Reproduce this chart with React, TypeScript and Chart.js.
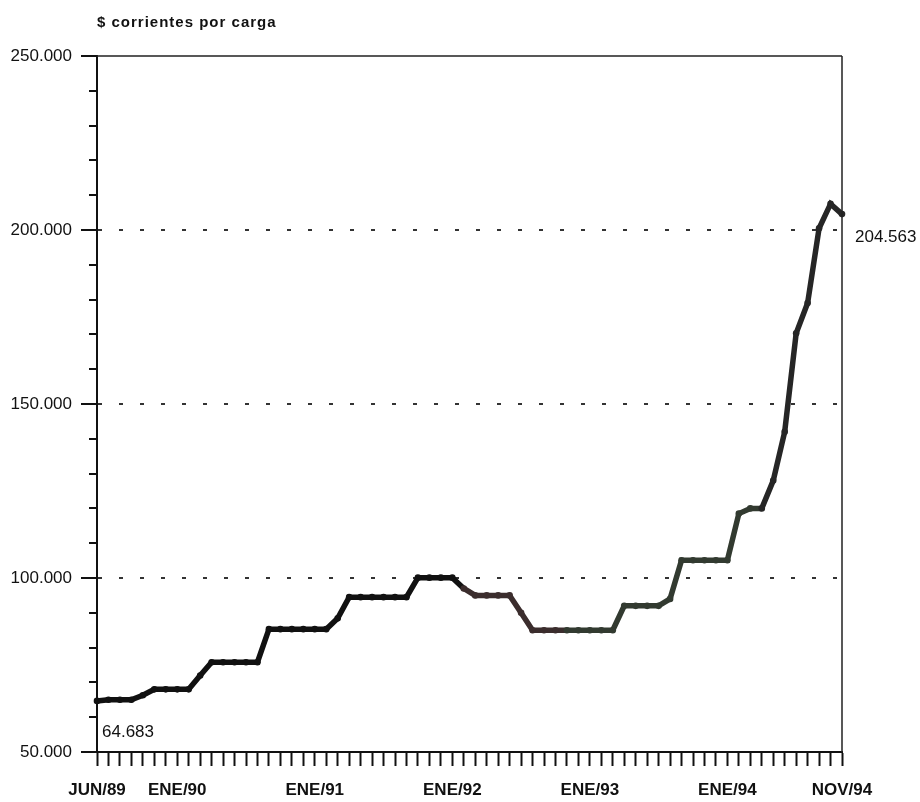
import React, { useEffect, useRef } from 'react';
import { Chart, registerables } from 'chart.js';

Chart.register(...registerables);

// ---------- data ----------
const MONTHS = ['ENE', 'FEB', 'MAR', 'ABR', 'MAY', 'JUN', 'JUL', 'AGO', 'SEP', 'OCT', 'NOV', 'DIC'];
const YEARS = [89, 90, 91, 92, 93, 94];
const FIRST_MONTH = 5; // JUN/89
const LAST_MONTH = 10; // NOV/94

const categories: string[] = [];
YEARS.forEach((y, yi) => {
  MONTHS.forEach((m, mi) => {
    if (yi === 0 && mi < FIRST_MONTH) return;
    if (yi === YEARS.length - 1 && mi > LAST_MONTH) return;
    categories.push(`${m}/${y}`);
  });
});

const shownLabels = ['JUN/89', 'ENE/90', 'ENE/91', 'ENE/92', 'ENE/93', 'ENE/94', 'NOV/94'];

const values = [
  64683, 65000, 65000, 65000, 66300, 68000, 68000, // 1989 JUN-DIC
  68000, 68000, 72000, 75800, 75800, 75800, 75800, 75800, 85300, 85300, 85300, 85300, // 1990
  85300, 85300, 88400, 94500, 94500, 94500, 94500, 94500, 94500, 100100, 100100, 100100, // 1991
  100100, 97000, 95000, 95000, 95000, 95000, 90000, 85000, 85000, 85000, 85000, 85000, // 1992
  85000, 85000, 85000, 92000, 92000, 92000, 92000, 94000, 105100, 105100, 105100, 105100, // 1993
  105100, 118500, 120000, 120000, 128000, 142000, 170300, 179000, 200500, 207500, 204563, // 1994 ENE-NOV
];

const yMin = 50000;
const yMax = 250000;
const yMinorStep = 10000;
const yMajorStep = 50000;
const gridValues = [100000, 150000, 200000];

const titleText = '$ corrientes por carga';
const pointNotes = [
  { index: 0, text: '64.683' },
  { index: 65, text: '204.563' },
];

// ---------- helpers ----------
const fmt = (n: number) => String(Math.round(n)).replace(/\B(?=(\d{3})+(?!\d))/g, '.');
const FONT = '"Liberation Sans", Arial, Helvetica, sans-serif';

const segColor = (i: number) => {
  if (i >= 32 && i < 41) return '#3b2d2d';
  if (i >= 41 && i < 58) return '#323a30';
  if (i >= 58) return '#262626';
  return '#111111';
};

const framePlugin = {
  id: 'framePlugin',
  afterDraw(chart: any) {
    const { ctx, chartArea } = chart;
    const { left, right, top, bottom } = chartArea;
    const ys = chart.scales.y;
    ctx.save();
    // top border (extends as major tick) and right border
    ctx.strokeStyle = '#222';
    ctx.lineWidth = 1.5;
    ctx.beginPath();
    ctx.moveTo(left - 15, top);
    ctx.lineTo(right, top);
    ctx.moveTo(right, top);
    ctx.lineTo(right, bottom);
    ctx.stroke();
    // y ticks
    ctx.strokeStyle = '#111';
    ctx.lineWidth = 2;
    for (let v = yMin; v <= yMax; v += yMinorStep) {
      const y = Math.round(ys.getPixelForValue(v));
      const len = v % yMajorStep === 0 ? 16 : 8;
      ctx.beginPath();
      ctx.moveTo(left - len, y);
      ctx.lineTo(left, y);
      ctx.stroke();
    }
    // title
    ctx.fillStyle = '#111';
    ctx.font = `bold 15px ${FONT}`;
    (ctx as any).letterSpacing = '1px';
    ctx.textAlign = 'left';
    ctx.textBaseline = 'alphabetic';
    ctx.fillText(titleText, left, 27);
    (ctx as any).letterSpacing = '0px';
    // value notes
    ctx.font = `17px ${FONT}`;
    const meta = chart.getDatasetMeta(0);
    pointNotes.forEach((n) => {
      const el = meta.data[n.index];
      if (!el) return;
      if (n.index === 0) ctx.fillText(n.text, el.x + 5, el.y + 36);
      else ctx.fillText(n.text, el.x + 13, el.y + 28);
    });
    ctx.restore();
  },
};

export default function App() {
  const ref = useRef<HTMLCanvasElement | null>(null);

  useEffect(() => {
    if (!ref.current) return;
    const chart = new Chart(ref.current, {
      type: 'line',
      data: {
        labels: categories,
        datasets: [
          {
            data: values,
            borderColor: '#111',
            borderWidth: 5.5,
            pointRadius: 3.3,
            pointBackgroundColor: (c: any) => segColor(c.dataIndex),
            pointBorderWidth: 0,
            tension: 0,
            clip: 12,
            segment: {
              borderColor: (c: any) => segColor(c.p0DataIndex),
            },
          } as any,
        ],
      },
      options: {
        responsive: false,
        animation: false,
        layout: { padding: { top: 56, right: 78, left: 0, bottom: 0 } },
        plugins: {
          legend: { display: false },
          tooltip: { enabled: false },
          title: { display: false },
        },
        scales: {
          x: {
            type: 'category',
            offset: false,
            grid: {
              drawOnChartArea: false,
              drawTicks: true,
              tickLength: 14,
              tickWidth: 2,
              tickColor: '#111',
            },
            border: { display: true, color: '#111', width: 2 },
            ticks: {
              autoSkip: false,
              maxRotation: 0,
              minRotation: 0,
              padding: 14,
              color: '#111',
              font: { family: FONT, size: 17, weight: 'bold' },
              callback: (_v: any, i: number) => (shownLabels.includes(categories[i]) ? categories[i] : ''),
            },
            afterFit: (s: any) => {
              s.height = 50;
            },
          },
          y: {
            type: 'linear',
            min: yMin,
            max: yMax,
            grid: {
              drawTicks: false,
              lineWidth: 2,
              color: (c: any) => (gridValues.includes(c.tick?.value) ? '#333' : 'rgba(0,0,0,0)'),
            },
            border: { display: true, color: '#111', width: 2, dash: [4, 17] },
            ticks: {
              stepSize: yMinorStep,
              autoSkip: false,
              padding: 25,
              color: '#111',
              font: { family: FONT, size: 17 },
              callback: (v: any) => (Number(v) % yMajorStep === 0 ? fmt(Number(v)) : ''),
            },
            afterFit: (s: any) => {
              s.width = 97;
            },
          },
        },
      } as any,
      plugins: [framePlugin],
    });
    return () => chart.destroy();
  }, []);

  return (
    <div style={{ position: 'absolute', left: 0, top: 0, width: 920, height: 802, background: '#fff' }}>
      <canvas ref={ref} width={920} height={802} style={{ display: 'block' }} />
    </div>
  );
}
